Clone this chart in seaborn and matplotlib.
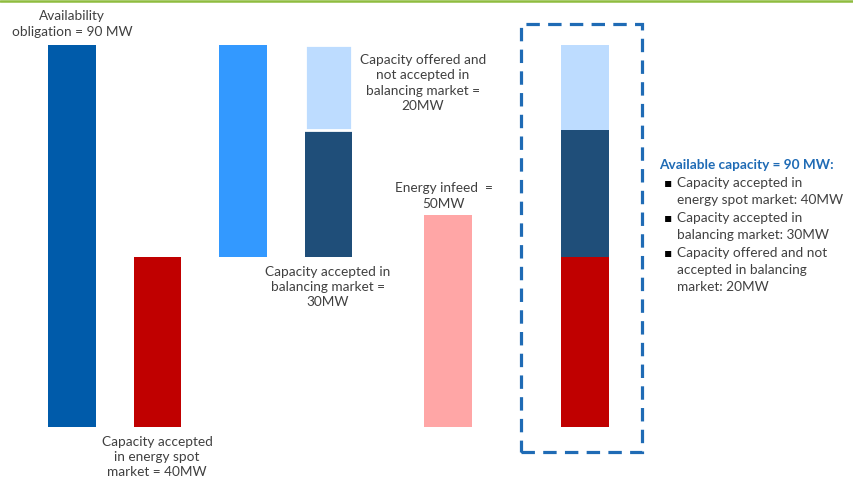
import matplotlib
matplotlib.use("Agg")
import matplotlib.pyplot as plt
from matplotlib.patches import Rectangle
from matplotlib.lines import Line2D
import seaborn as sns
import pandas as pd

# ---------------- data ----------------
bar_names = ["Availability obligation", "Spot market", "Offered in balancing",
             "Balancing split", "Energy infeed", "Available capacity"]
seg_bar = [0, 1, 2, 3, 3, 4, 5, 5, 5]
seg_bottom = [0, 0, 40, 40, 70, 0, 0, 40, 70]
seg_height = [90, 40, 50, 30, 20, 50, 40, 30, 20]

label_avail = "Availability\nobligation = 90 MW"
label_spot = "Capacity accepted\nin energy spot\nmarket = 40MW"
label_offered = "Capacity offered and\nnot accepted in\nbalancing market =\n20MW"
label_accepted = "Capacity accepted in\nbalancing market =\n30MW"
label_infeed = "Energy infeed  =\n50MW"
summary_title = "Available capacity = 90 MW:"
summary_items = ["Capacity accepted in\nenergy spot market: 40MW",
                 "Capacity accepted in\nbalancing market: 30MW",
                 "Capacity offered and not\naccepted in balancing\nmarket: 20MW"]

# ---------------- style / layout ----------------
bar_pos = [0, 1, 2, 3, 4.4, 6.0]
bar_width = 0.561
seg_colors = ["#005BAA", "#C00000", "#3399FF", "#1F4E79", "#BDDCFF",
              "#FFA6A6", "#C00000", "#1F4E79", "#BDDCFF"]
seg_edge = [None, None, None, None, "white", None, None, None, None]
text_color = "#404040"
blue = "#1F6BB5"

sns.set_theme(style="white")
plt.rcParams["font.family"] = ["Lato", "DejaVu Sans"]

W, H = 854, 484
fig = plt.figure(figsize=(W / 100, H / 100), dpi=100)
ax = fig.add_axes([0, 0, 1, 1])

PX_X0, PX_UNIT = 72.0, 85.5     # x pixel of pos 0, pixels per pos unit
PY_0, PY_UNIT = 427.0, 382.0 / 90  # y pixel of value 0, pixels per MW

def px_x(px):
    return (px - PX_X0) / PX_UNIT

def px_y(py):
    return (PY_0 - py) / PY_UNIT

for b, bot, h, c, e in zip(seg_bar, seg_bottom, seg_height, seg_colors, seg_edge):
    df = pd.DataFrame({"x": [bar_pos[b]], "y": [h]})
    kw = dict(bottom=bot, linewidth=0)
    if e:
        kw.update(edgecolor=e, linewidth=2.0)
    sns.barplot(data=df, x="x", y="y", native_scale=True, width=bar_width,
                color=c, saturation=1, errorbar=None, ax=ax, **kw)

ax.set_xlim(px_x(0), px_x(W))
ax.set_ylim(px_y(H), px_y(0))
ax.axis("off")

# dashed frame
ax.add_patch(Rectangle((px_x(521), px_y(452)), px_x(642) - px_x(521),
                       px_y(23.5) - px_y(452), fill=False, edgecolor=blue,
                       linewidth=2.3, linestyle=(0, (4.2, 2.6)), zorder=5))

fs = 9.8
def t(px, py, s, **kw):
    d = dict(ha="center", va="center", fontsize=fs, color=text_color, linespacing=1.35)
    d.update(kw)
    ax.text(px_x(px), px_y(py), s, **d)

t(72, 24, label_avail)
t(157, 457, label_spot)
t(423, 83, label_offered)
t(328, 287, label_accepted)
t(444, 196, label_infeed)

ax.text(px_x(659), px_y(165), summary_title, ha="left", va="center",
        fontsize=fs, color=blue, fontweight="bold")
line_h = 17.4
y = 183
for item in summary_items:
    ax.text(px_x(664), px_y(y), "\u25aa", ha="left", va="center", fontsize=fs - 1,
            color="black", family=["DejaVu Sans"])
    n = item.count("\n") + 1
    ax.text(px_x(677), px_y(y - line_h / 2 * 0) , item, ha="left", va="top",
            fontsize=fs, color=text_color, linespacing=1.33,
            transform=ax.transData) if False else None
    for k, ln in enumerate(item.split("\n")):
        ax.text(px_x(677), px_y(y + k * line_h), ln, ha="left", va="center",
                fontsize=fs, color=text_color)
    y += n * line_h

# top green rule
fig.add_artist(Line2D([0, 1], [1 - 1.2 / H, 1 - 1.2 / H], color="#8FBC3F",
                      linewidth=1.8, transform=fig.transFigure))

fig.savefig("out.png", dpi=100)
